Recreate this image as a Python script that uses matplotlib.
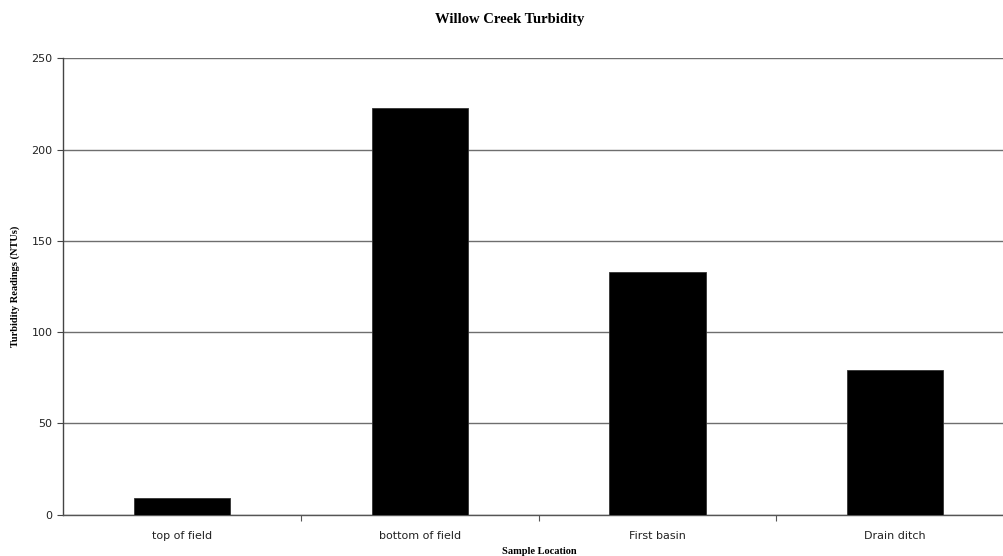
import matplotlib
matplotlib.use("Agg")
import matplotlib.pyplot as plt

# chart data
locations = ["top of field", "bottom of field", "First basin", "Drain ditch"]
turbidity = [9, 223, 133, 79]
y_ticks = [0, 50, 100, 150, 200, 250]

W, H = 1004, 556
fig = plt.figure(figsize=(W / 100, H / 100), dpi=100)

# plot area runs a little past the right edge of the picture
left, right, top, bottom = 63.5, 1014, 58.3, 514.7
ax = fig.add_axes([left / W, 1 - bottom / H, (right - left) / W, (bottom - top) / H])

x = list(range(len(locations)))
ax.bar(x, turbidity, width=0.405, color="black", edgecolor="#333333", linewidth=0.6, zorder=3)

ax.set_xlim(-0.5, len(locations) - 0.5)
ax.set_ylim(0, 250)
ax.set_yticks(y_ticks)
ax.yaxis.grid(True, color="#6e6e6e", linewidth=1.0, zorder=0)

for side in ["top", "right"]:
    ax.spines[side].set_visible(False)
ax.spines["left"].set_color("#444444")
ax.spines["bottom"].set_color("#555555")
ax.spines["left"].set_linewidth(1.0)
ax.spines["bottom"].set_linewidth(1.0)

# category labels sit between the boundary tick marks
ax.set_xticks([i - 0.5 for i in range(1, len(locations))])
ax.set_xticklabels([])
ax.set_xticks(x, minor=True)
ax.set_xticklabels(locations, minor=True, fontsize=8, family="DejaVu Sans", color="#222222")
ax.tick_params(axis="x", which="minor", length=0, pad=12)
ax.tick_params(axis="x", which="major", length=4, color="#555555")
ax.tick_params(axis="y", length=4, color="#444444", labelsize=8, pad=4, labelcolor="#222222")

ax.set_ylabel("Turbidity Readings (NTUs)", family="Liberation Serif", fontweight="bold",
              fontsize=7.5, labelpad=8)
fig.text(539 / W, 1 - 551 / H, "Sample Location", family="Liberation Serif",
         fontweight="bold", fontsize=7.5, ha="center", va="center")
fig.text(509.5 / W, 1 - 20 / H, "Willow Creek Turbidity", family="Liberation Serif",
         fontweight="bold", fontsize=10.5, ha="center", va="center")

fig.savefig("out.png", dpi=100)
